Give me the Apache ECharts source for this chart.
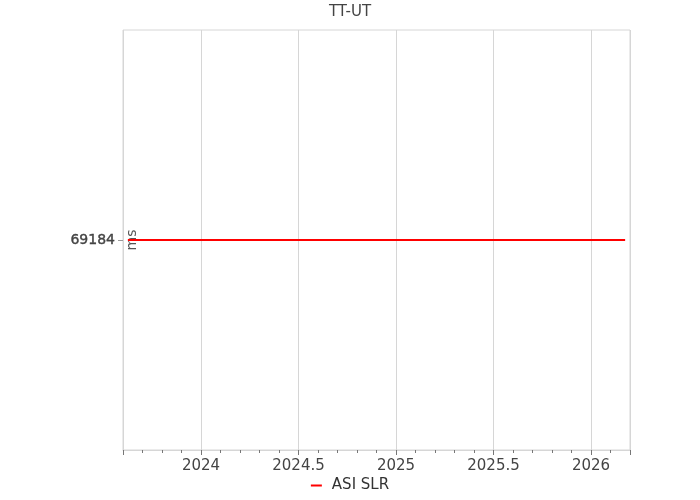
<!DOCTYPE html>
<html>
<head>
<meta charset="utf-8">
<script src="https://cdn.jsdelivr.net/npm/echarts@6/dist/echarts.min.js"></script>
<style>html,body{margin:0;padding:0;background:#fff}#c{width:700px;height:500px}</style>
</head>
<body>
<div id="c"></div>
<script>
var seriesName = 'ASI SLR';
var years = [2023.625, 2026.175];
var values = [69184, 69184];
var yTickLabels = [69184];
var xMin = 2023.6, xMax = 2026.2;

var chart = echarts.init(document.getElementById('c'));
var font = 'DejaVu Sans';
chart.setOption({
  animation: false,
  textStyle: {fontFamily: font},
  title: {text: 'TT-UT', left: 'center', top: 0, textStyle: {fontFamily: font, fontSize: 15, fontWeight: 'normal', color: '#444'}},
  legend: {bottom: 2, left: 'center', itemWidth: 11, itemHeight: 2, icon: 'rect', itemGap: 10,
    textStyle: {fontFamily: font, fontSize: 15, color: '#333', padding: [0, 0, 0, 5]}, data: [seriesName]},
  grid: {left: 123, right: 70, top: 30, bottom: 50, show: true, borderColor: '#d6d6d6', borderWidth: 1},
  xAxis: {
    type: 'value', min: xMin, max: xMax,
    axisLine: {show: true, lineStyle: {color: '#d6d6d6'}},
    axisTick: {show: true, length: 5, lineStyle: {color: '#777'}},
    minorTick: {show: true, splitNumber: 5, length: 3, lineStyle: {color: '#777'}},
    axisLabel: {showMinLabel: false, showMaxLabel: false, fontFamily: font, fontSize: 15, color: '#444', margin: 9,
      formatter: function (v) { return String(v); }},
    splitLine: {show: true, lineStyle: {color: '#d6d6d6'}}
  },
  yAxis: {
    type: 'value', min: 69183, max: 69185,
    name: 'ms', nameLocation: 'middle', nameGap: -16, nameMoveOverlap: false,
    nameTextStyle: {fontFamily: font, fontSize: 14, color: '#555'},
    axisLine: {show: false},
    axisTick: {show: true, length: 5, customValues: [69184], lineStyle: {color: '#999'}},
    axisLabel: {customValues: yTickLabels, fontFamily: font, fontSize: 14, color: '#444', margin: 8,
      textBorderColor: '#444', textBorderWidth: 0.4,
      formatter: function (v) { return String(v); }},
    splitLine: {show: false}
  },
  series: [{
    name: seriesName, type: 'line', showSymbol: false, symbol: 'none',
    lineStyle: {color: '#ff0000', width: 2}, itemStyle: {color: '#ff0000'},
    data: years.map(function (y, i) { return [y, values[i]]; })
  }]
});
</script>
</body>
</html>
